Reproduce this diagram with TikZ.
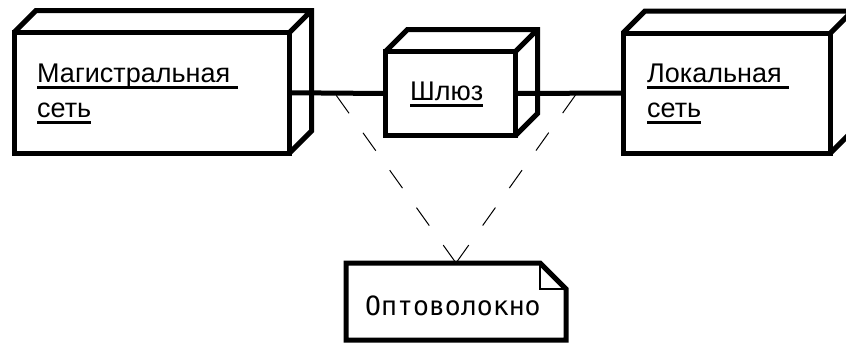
\documentclass[tikz,border=0pt]{standalone}
\usepackage{fontspec}
\setmainfont{Liberation Sans}
\newfontfamily\fibermono{DejaVu Sans Mono}
\usetikzlibrary{calc}
\newcommand\uml[1]{\setbox0=\hbox{#1}\rlap{\rule[-6.5pt]{\wd0}{2.5pt}}\box0}

\begin{document}
\begin{tikzpicture}[x=1pt,y=-1pt,
  face/.style={draw,line width=5pt,inner sep=0,outer sep=0},
  lbl/.style={inner sep=0,align=left,anchor=base west,font=\fontsize{27}{35}\selectfont},
  link/.style={line width=5pt},
  trace/.style={line width=1pt,dash pattern=on 22pt off 24pt}]
  \useasboundingbox (0,0) rectangle (846,343);
  % nodes: front faces
  \node[face,minimum width=275.5,minimum height=120.5] (bb) at (151.75,92.75) {};
  \node[face,minimum width=130,minimum height=84] (gw) at (450.5,93.5) {};
  \node[face,minimum width=207.5,minimum height=120] (lan) at (726.75,93) {};
  \foreach \n in {bb,gw,lan}
    \draw[link] (\n.north west) -- ++(22,-22) -| ($(\n.south east)+(22,-22)$) -- (\n.south east)
      (\n.north east) -- ++(22,-22);
  % labels (base = last line)
  \node[lbl] (bbtxt) at (37,117) {\uml{Магистральная\ }\\\uml{сеть}};
  \node[lbl] (gwtxt) at (410,100) {\uml{Шлюз}};
  \node[lbl] (lantxt) at (647,117) {\uml{Локальная\ }\\\uml{сеть}};
  % links
  \draw[link] (bb.east) -- (gw.west);
  \draw[link] (gw.east) -- (lan.west);
  \coordinate (lj) at ($(bb.east)!0.47!(gw.west)$);
  \coordinate (rj) at ($(gw.east)!0.57!(lan.west)$);
  % note
  \node[inner sep=0,outer sep=0,minimum width=220,minimum height=77] (fiber) at (456,301.5) {};
  \draw[line width=5pt] (fiber.south west) |- ($(fiber.north east)+(-26,0)$)
    -- ($(fiber.north east)+(0,26)$) |- (fiber.south west) -- cycle;
  \draw[line width=1.5pt] ($(fiber.north east)+(-26,0)$) |- ($(fiber.north east)+(0,26)$);
  \node[inner sep=0,anchor=base west,font=\fibermono\fontsize{26.5}{30}\selectfont] (fibertxt) at (365,315) {Оптоволокно};
  \draw[trace] (fiber.north) -- (lj);
  \draw[trace] (fiber.north) -- (rj);
\end{tikzpicture}
\end{document}
